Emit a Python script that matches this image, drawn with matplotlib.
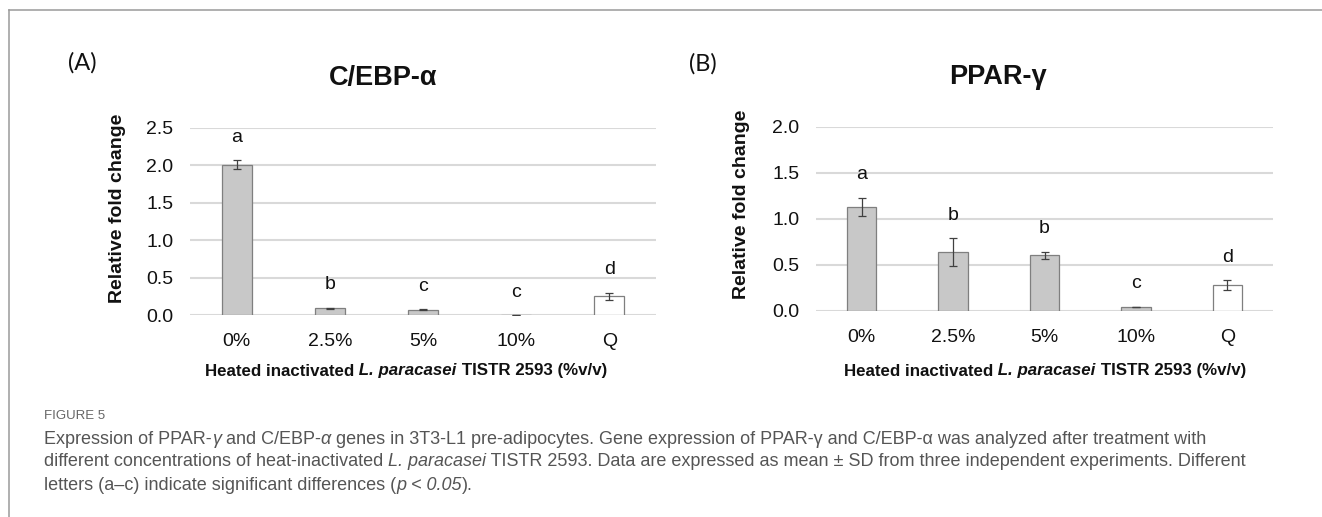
import matplotlib
matplotlib.use("Agg")
import matplotlib.pyplot as plt
import numpy as np

# data
categories = ["0%", "2.5%", "5%", "10%", "Q"]
cebpa_mean = [2.01, 0.09, 0.07, 0.0, 0.25]
cebpa_sd = [0.06, 0.005, 0.005, 0.0, 0.05]
cebpa_letters = ["a", "b", "c", "c", "d"]
pparg_mean = [1.13, 0.64, 0.60, 0.04, 0.28]
pparg_sd = [0.10, 0.15, 0.04, 0.005, 0.05]
pparg_letters = ["a", "b", "b", "c", "d"]

W, H = 1322, 517
PANEL_FONT = ["Liberation Sans", "DejaVu Sans"]
CAP_FONT = ["Liberation Sans Narrow", "Liberation Sans", "DejaVu Sans"]
CAP_COLOR = "#555555"

fig = plt.figure(figsize=(W / 100, H / 100), dpi=100)
bg = fig.add_axes([0, 0, 1, 1])
bg.set_xlim(0, W)
bg.set_ylim(H, 0)
bg.axis("off")

# frame of the figure box
bg.plot([9, W], [10, 10], color="#9a9a9a", lw=1.1)
bg.plot([9, 9], [10, H], color="#9a9a9a", lw=1.1)


def px_axes(x0, x1, y0, y1):
    return fig.add_axes([x0 / W, 1 - y1 / H, (x1 - x0) / W, (y1 - y0) / H])


def draw_panel(ax, mean, sd, letters, ymax):
    x = np.arange(len(categories))
    colors = ["#c8c8c8"] * 4 + ["white"]
    ax.set_axisbelow(True)
    ax.bar(x, mean, width=0.32, color=colors, edgecolor="#7f7f7f", linewidth=0.9, zorder=2)
    ax.errorbar(x, mean, yerr=sd, fmt="none", ecolor="#404040", elinewidth=0.9,
                capsize=3, capthick=0.9, zorder=3)
    for xi, m, s, lab in zip(x, mean, sd, letters):
        ax.annotate(lab, xy=(xi, m + s), xytext=(0, 16.5), textcoords="offset points",
                    ha="center", va="center", fontsize=14, family=PANEL_FONT, color="#111111")
    ax.set_xlim(-0.5, len(categories) - 0.5)
    ax.set_ylim(0, ymax)
    ax.set_yticks(np.arange(0, ymax + 0.01, 0.5))
    ax.set_yticklabels([f"{v:.1f}" for v in np.arange(0, ymax + 0.01, 0.5)])
    ax.set_xticks(x)
    ax.set_xticklabels(categories)
    ax.grid(axis="y", color="#d9d9d9", lw=1.5)
    for sp in ax.spines.values():
        sp.set_visible(False)
    ax.tick_params(length=0, labelsize=14, colors="#111111")
    ax.tick_params(axis="y", pad=12)
    ax.tick_params(axis="x", pad=13)
    for lab in ax.get_xticklabels() + ax.get_yticklabels():
        lab.set_family(PANEL_FONT)


def rich_line(x, y, parts, size, color, family, weight="normal"):
    t = bg.text(x, y, parts[0][0], style=parts[0][1], fontsize=size, color=color,
                family=family, weight=weight, ha="left", va="center")
    for s, st in parts[1:]:
        t = bg.annotate(s, xy=(1, 0), xycoords=t, style=st, fontsize=size, color=color,
                        family=family, weight=weight, ha="left", va="bottom")
    return t


def centered_rich(xc, y, parts, size, color, family, weight="normal"):
    # measure total width then place
    r = fig.canvas.get_renderer()
    total = 0
    for s, st in parts:
        tt = bg.text(0, 0, s, style=st, fontsize=size, family=family, weight=weight)
        total += tt.get_window_extent(r).width
        tt.remove()
    rich_line(xc - total / 2, y, parts, size, color, family, weight)


# panel A
axA = px_axes(190, 656, 128, 315)
draw_panel(axA, cebpa_mean, cebpa_sd, cebpa_letters, 2.5)
bg.text(82, 63, "(A)", fontsize=17, family=["Lato", "DejaVu Sans"], ha="center", va="center", color="#111111")
bg.text(383, 78, "C/EBP-α", fontsize=19.5, weight="bold", family=PANEL_FONT, ha="center", va="center", color="#111111")
bg.text(118, 208, "Relative fold change", rotation=90, fontsize=14, weight="bold",
        family=PANEL_FONT, ha="center", va="center", color="#111111")

# panel B
axB = px_axes(816, 1273, 126.7, 310.7)
draw_panel(axB, pparg_mean, pparg_sd, pparg_letters, 2.0)
bg.text(703, 64, "(B)", fontsize=17, family=["Lato", "DejaVu Sans"], ha="center", va="center", color="#111111")
bg.text(998, 77, "PPAR-γ", fontsize=19.5, weight="bold", family=PANEL_FONT, ha="center", va="center", color="#111111")
bg.text(741, 204, "Relative fold change", rotation=90, fontsize=14, weight="bold",
        family=PANEL_FONT, ha="center", va="center", color="#111111")

xlab = [("Heated inactivated", "normal"), (" L. paracasei", "italic"), (" TISTR 2593 (%v/v)", "normal")]
centered_rich(406, 371, xlab, 12.2, "#111111", PANEL_FONT, "bold")
centered_rich(1045, 371, xlab, 12.2, "#111111", PANEL_FONT, "bold")

# caption
bg.text(44, 416, "FIGURE 5", fontsize=9.5, color="#666666", family=CAP_FONT, ha="left", va="center")
rich_line(44, 439, [("Expression of PPAR-", "normal"), ("γ", "italic"), (" and C/EBP-", "normal"),
                    ("α", "italic"),
                    (" genes in 3T3-L1 pre-adipocytes. Gene expression of PPAR-γ and C/EBP-α was analyzed after treatment with", "normal")],
          13, CAP_COLOR, CAP_FONT)
rich_line(44, 462, [("different concentrations of heat-inactivated", "normal"), (" L. paracasei", "italic"),
                    (" TISTR 2593. Data are expressed as mean ± SD from three independent experiments. Different", "normal")],
          13, CAP_COLOR, CAP_FONT)
rich_line(44, 485, [("letters (a\u2013c) indicate significant differences (", "normal"), ("p < 0.05", "italic"),
                    (").", "normal")],
          13, CAP_COLOR, CAP_FONT)

fig.savefig("out.png", dpi=100)
